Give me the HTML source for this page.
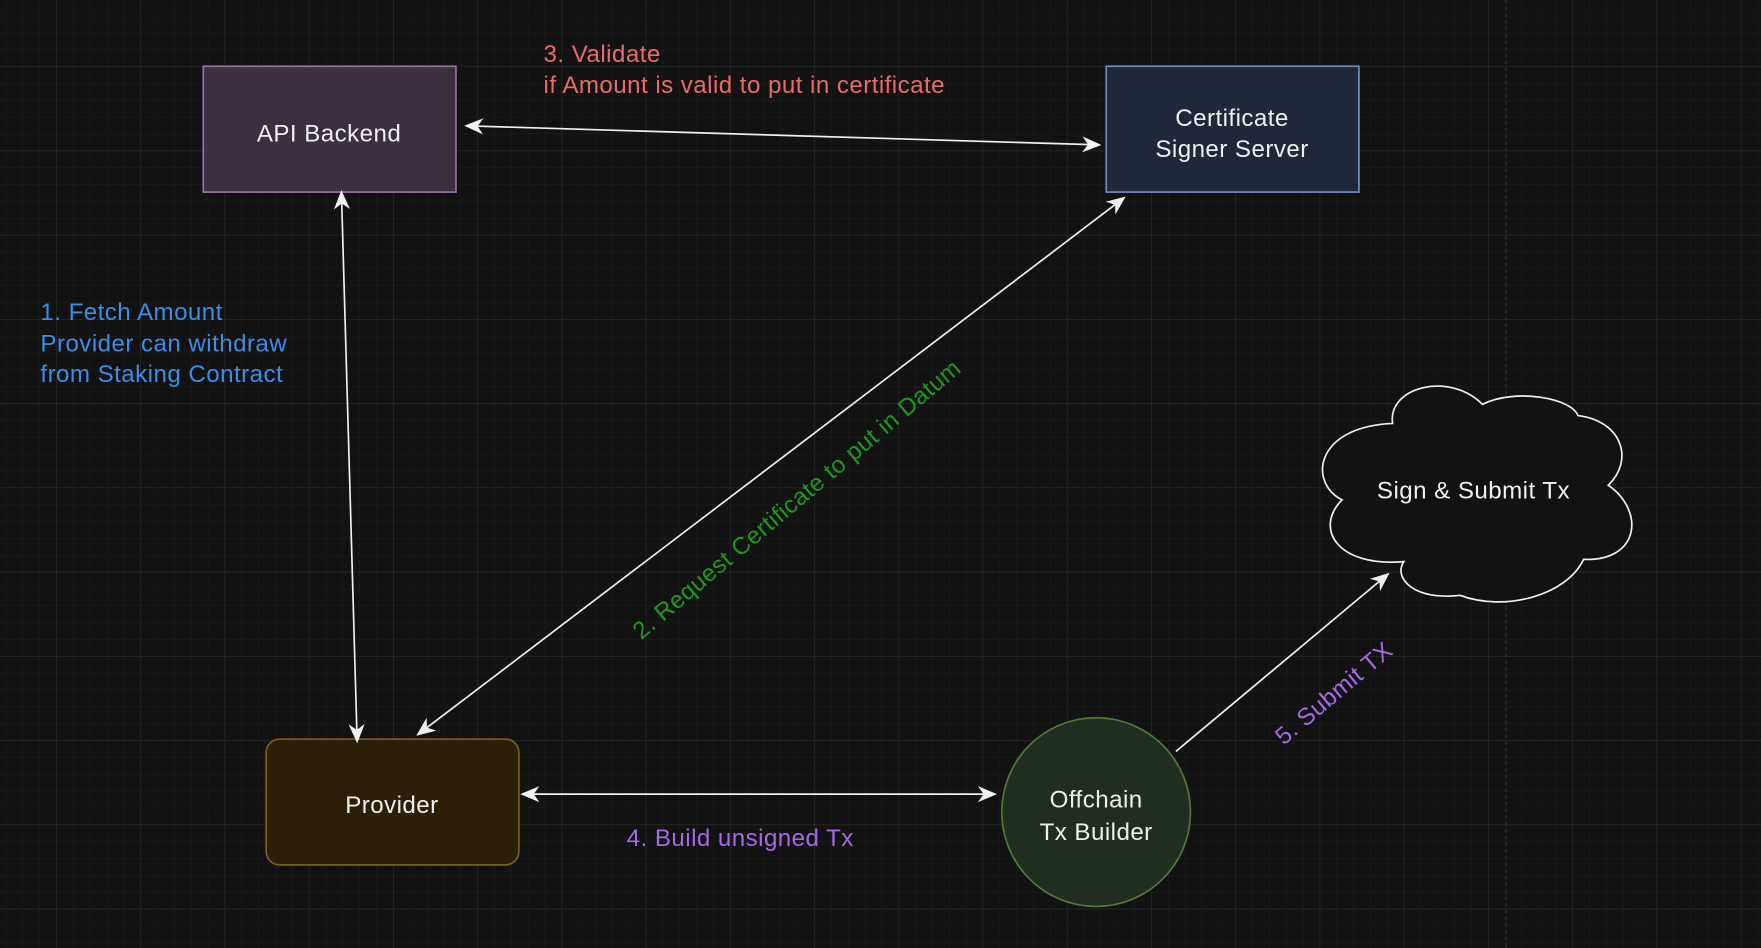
<!DOCTYPE html>
<html><head><meta charset="utf-8"><style>
html,body{margin:0;padding:0;background:#121212;width:1761px;height:948px;overflow:hidden}
svg{display:block}
text{font-family:"Liberation Sans",sans-serif;font-size:21.5px;letter-spacing:0.4px}
</style></head><body>
<svg width="1761" height="948" viewBox="0 0 1568 844" preserveAspectRatio="none">
<defs>
<pattern id="mi" width="15" height="15" patternUnits="userSpaceOnUse" x="50" y="59">
<path d="M0 0H15M0 0V15" stroke="#1c1c1c" stroke-width="1" fill="none"/></pattern>
<pattern id="ma" width="75" height="75" patternUnits="userSpaceOnUse" x="50" y="59">
<path d="M0 0H75M0 0V75" stroke="#2b2b2b" stroke-width="1" fill="none"/></pattern>
<marker id="a" viewBox="0 0 10 10" refX="9" refY="5" markerWidth="17" markerHeight="17" markerUnits="userSpaceOnUse" orient="auto-start-reverse">
<path d="M0 0.8L10 5L0 9.2L3 5Z" fill="#f0f0f0"/></marker>
</defs>
<rect width="1568" height="844" fill="#121212"/>
<rect width="1568" height="844" fill="url(#mi)"/>
<rect width="1568" height="844" fill="url(#ma)"/>
<line x1="1341" y1="0" x2="1341" y2="844" stroke="#333" stroke-dasharray="3 3"/>

<rect x="181" y="59" width="225" height="112" fill="#3b2f40" stroke="#9673a6" stroke-width="1.5"/>
<text x="293" y="126" fill="#f0f0f0" text-anchor="middle">API Backend</text>

<rect x="985" y="59" width="225" height="112" fill="#1e2838" stroke="#6c8ebf" stroke-width="1.5"/>
<text x="1097" y="112" fill="#f0f0f0" text-anchor="middle">Certificate</text>
<text x="1097" y="140" fill="#f0f0f0" text-anchor="middle">Signer Server</text>

<rect x="237" y="658" width="225" height="112" rx="12" fill="#2b1f07" stroke="#7a6118" stroke-width="1.5"/>
<text x="349" y="724" fill="#f0f0f0" text-anchor="middle">Provider</text>

<circle cx="976" cy="723" r="84" fill="#1f2e1f" stroke="#4f7a3a" stroke-width="1.5"/>
<text x="976" y="719" fill="#f0f0f0" text-anchor="middle">Offchain</text>
<text x="976" y="748" fill="#f0f0f0" text-anchor="middle">Tx Builder</text>

<path d="M1240 377 C1235 345 1290 330 1320 360 C1350 345 1400 355 1405 370 C1445 375 1455 410 1432 432 C1465 455 1460 500 1410 498 C1395 530 1340 545 1300 530 C1260 535 1240 515 1250 500 C1190 505 1170 470 1195 445 C1165 430 1170 380 1240 377 Z" fill="#121212" stroke="#f0f0f0" stroke-width="1.5"/>
<text x="1312" y="444" fill="#f0f0f0" text-anchor="middle">Sign &amp; Submit Tx</text>

<g stroke="#f0f0f0" stroke-width="1.5" fill="none">
<line x1="415" y1="112" x2="979" y2="129" marker-start="url(#a)" marker-end="url(#a)"/>
<line x1="304" y1="171" x2="318" y2="660" marker-start="url(#a)" marker-end="url(#a)"/>
<line x1="372" y1="654" x2="1001" y2="176" marker-start="url(#a)" marker-end="url(#a)"/>
<line x1="465" y1="707" x2="886" y2="707" marker-start="url(#a)" marker-end="url(#a)"/>
<line x1="1047" y1="669" x2="1236" y2="511" marker-end="url(#a)"/>
</g>

<text x="484" y="55" fill="#ea6b66">3. Validate</text>
<text x="484" y="83" fill="#ea6b66">if Amount is valid to put in certificate</text>
<text x="36" y="285" fill="#3a8ee6">1. Fetch Amount</text>
<text x="36" y="313" fill="#3a8ee6">Provider can withdraw</text>
<text x="36" y="340" fill="#3a8ee6">from Staking Contract</text>
<text x="558" y="753" fill="#a569e6">4. Build unsigned Tx</text>
<text transform="translate(571 570) rotate(-40)" fill="#1c9a1c">2. Request Certificate to put in Datum</text>
<text transform="translate(1143 664) rotate(-40)" fill="#a569e6">5. Submit TX</text>
</svg>
</body></html>
